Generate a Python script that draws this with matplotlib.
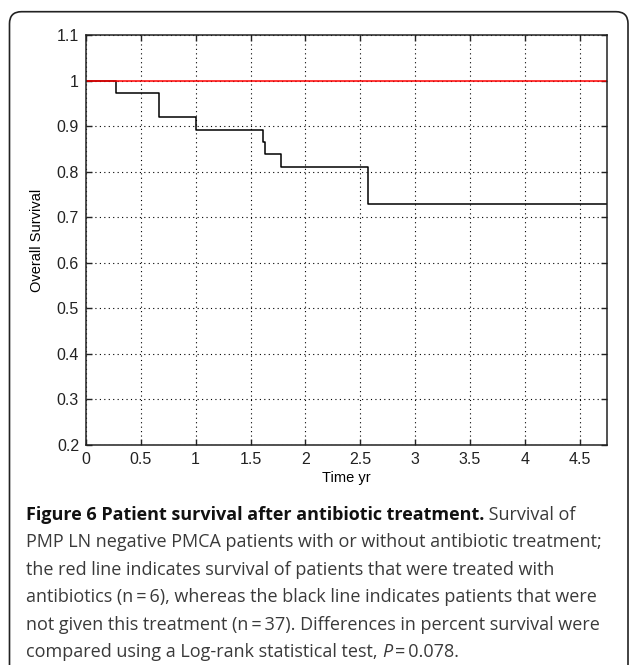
import numpy as np
import matplotlib
matplotlib.use('Agg')
import matplotlib.pyplot as plt
from matplotlib.patches import FancyBboxPatch

# Kaplan-Meier curves
black_times = [0, 0.27, 0.67, 1.0, 1.61, 1.63, 1.78, 2.57, 4.75]
black_surv = [1.0, 0.973, 0.919, 0.892, 0.865, 0.838, 0.811, 0.73, 0.73]
red_times = [0, 4.75]
red_surv = [1.0, 1.0]

x_ticks = [0, 0.5, 1, 1.5, 2, 2.5, 3, 3.5, 4, 4.5]
x_labels = ['0', '0.5', '1', '1.5', '2', '2.5', '3', '3.5', '4', '4.5']
y_ticks = [0.2, 0.3, 0.4, 0.5, 0.6, 0.7, 0.8, 0.9, 1.0, 1.1]
y_labels = ['0.2', '0.3', '0.4', '0.5', '0.6', '0.7', '0.8', '0.9', '1', '1.1']

caption_bold = 'Figure 6 Patient survival after antibiotic treatment.'
caption_lines = [
    ' Survival of',
    'PMP LN negative PMCA patients with or without antibiotic treatment;',
    'the red line indicates survival of patients that were treated with',
    'antibiotics (n\u2009=\u20096), whereas the black line indicates patients that were',
    'not given this treatment (n\u2009=\u200937). Differences in percent survival were',
]
last_line = ['compared using a Log-rank statistical test, ', 'P', '\u2009=\u20090.078.']

W, H = 629, 665
fig = plt.figure(figsize=(W / 100, H / 100), dpi=100)

# rounded frame around the figure panel
frame = FancyBboxPatch((0.095, -0.5), 6.185, 6.533 + 0.5, boxstyle='round,pad=0,rounding_size=0.12',
                       transform=fig.dpi_scale_trans, fill=False, edgecolor='#222222', linewidth=1.2)
fig.patches.append(frame)

ax = fig.add_axes([86 / W, 1 - 445 / H, 521 / W, 410 / H])
ax.step(black_times, black_surv, where='post', color='black', linewidth=1.1)
ax.plot(red_times, red_surv, color='#ff0000', linewidth=1.1)

ax.set_xlim(0, 4.75)
ax.set_ylim(0.2, 1.1)
ax.set_xticks(x_ticks)
ax.set_xticklabels(x_labels)
ax.set_yticks(y_ticks)
ax.set_yticklabels(y_labels)
ax.grid(True, color='black', linestyle=(0, (1, 3)), linewidth=0.8)
ax.tick_params(direction='in', length=4, width=1, top=True, right=True,
               labelsize=11.5, pad=5, colors='#222222')
for lab in ax.get_xticklabels() + ax.get_yticklabels():
    lab.set_fontfamily('Liberation Sans')
for s in ax.spines.values():
    s.set_linewidth(1.1)
    s.set_color('#222222')
ax.set_xlabel('Time yr', fontsize=10.5, family='Liberation Sans', labelpad=3)
ax.set_ylabel('Overall Survival', fontsize=10.5, family='Liberation Sans', labelpad=9)

# caption
cap_font = 'Open Sans'
cap_size = 13.0
x0 = 26 / W
base0 = 520
step_px = 27.4
renderer = fig.canvas.get_renderer()

t = fig.text(x0, 1 - base0 / H, caption_bold, fontsize=cap_size, family=cap_font,
             weight='bold', color='#111111', va='baseline')
bb = t.get_window_extent(renderer)
fig.text(bb.x1 / W, 1 - base0 / H, caption_lines[0], fontsize=cap_size, family=cap_font,
         color='#3a3a3a', va='baseline')
for i, line in enumerate(caption_lines[1:], start=1):
    fig.text(x0, 1 - (base0 + i * step_px) / H, line, fontsize=cap_size, family=cap_font,
             color='#3a3a3a', va='baseline')

yl = 1 - (base0 + 5 * step_px) / H
xx = x0
for j, part in enumerate(last_line):
    t = fig.text(xx, yl, part, fontsize=cap_size, family=cap_font, color='#3a3a3a',
                 va='baseline', style='italic' if j == 1 else 'normal')
    xx = t.get_window_extent(renderer).x1 / W

fig.savefig('out.png', dpi=100)
